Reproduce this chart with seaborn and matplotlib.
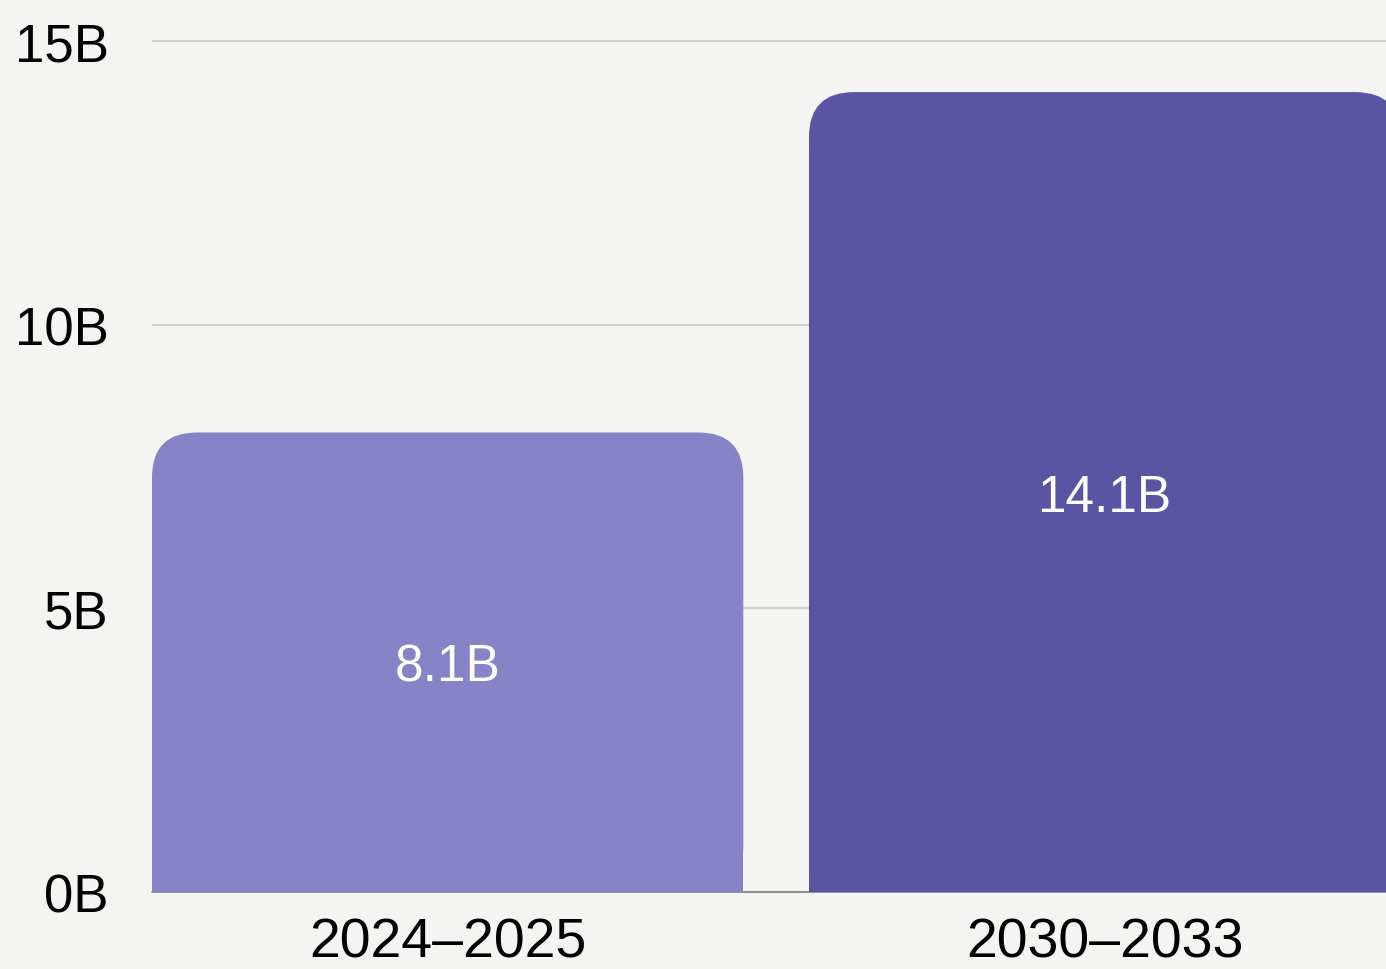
import matplotlib
matplotlib.use("Agg")
import matplotlib.pyplot as plt
import seaborn as sns
import pandas as pd
from matplotlib.patches import FancyBboxPatch, Rectangle

# data
periods = ["2024–2025", "2030–2033"]
values = [8.1, 14.1]
bar_colors = ["#8683c6", "#5a55a3"]
y_ticks = [0, 5, 10, 15]
y_tick_labels = ["0B", "5B", "10B", "15B"]

bg = "#f4f5f2"
sns.set_theme(style="white")
plt.rcParams["font.family"] = ["Liberation Sans", "DejaVu Sans"]

df = pd.DataFrame({"period": periods, "value": values})

fig = plt.figure(figsize=(13.86, 9.7), dpi=100, facecolor=bg)
ax = fig.add_axes([152 / 1386, 77 / 970, 1234 / 1386, 893 / 970])
ax.set_facecolor(bg)

sns.barplot(data=df, x="period", y="value", hue="period", palette=bar_colors,
            width=0.9, saturation=1, legend=False, ax=ax)

ax.set_xlim(-0.45, -0.45 + 1234 / 657)
ax.set_ylim(0, 893 / 56.73)

# swap plain bars for bars with rounded top corners
rx = 45 / 657
ry = 45 / 56.73
for p in list(ax.patches):
    x, w, h = p.get_x(), p.get_width(), p.get_height()
    fc = p.get_facecolor()
    p.set_visible(False)
    ax.add_patch(FancyBboxPatch((x, 0), w, h,
                                boxstyle=f"round,pad=0,rounding_size={rx}",
                                mutation_aspect=ry / rx, fc=fc, ec="none",
                                zorder=3))
    ax.add_patch(Rectangle((x, 0), w, h / 2, fc=fc, ec="none", zorder=3))

for i, v in enumerate(values):
    ax.text(i, v / 2 - 0.33, f"{v}B", color="white", fontsize=37,
            ha="center", va="baseline", zorder=4)

ax.set_yticks(y_ticks)
ax.set_yticklabels(y_tick_labels)
ax.yaxis.grid(True, color="#c9c9c9", linewidth=1.3)
ax.set_axisbelow(True)
ax.tick_params(axis="y", length=0, pad=31, labelsize=38, labelcolor="#000000")
ax.tick_params(axis="x", length=0, pad=18, labelsize=40, labelcolor="#000000")
ax.set_xlabel("")
ax.set_ylabel("")

for s in ["top", "right", "left", "bottom"]:
    ax.spines[s].set_visible(False)
ax.axhline(0, color="#808080", linewidth=1.2, zorder=2, clip_on=False)

fig.savefig("out.png", dpi=100, facecolor=bg)
